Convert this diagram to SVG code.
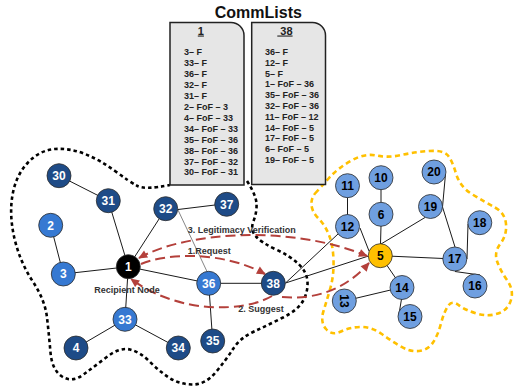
<svg xmlns="http://www.w3.org/2000/svg" width="515" height="387" viewBox="0 0 515 387">
<style>
.blobk{fill:none;stroke:#000;stroke-width:2.6;stroke-dasharray:3.5 3}
.bloby{fill:none;stroke:#ffc000;stroke-width:2.6;stroke-dasharray:5 3.5}
.box{fill:#e6e6e6;stroke:#222;stroke-width:1.5}
.lst{font-family:"Liberation Sans",Arial,sans-serif;font-size:9px;font-weight:bold;fill:#222}
.hdr{font-family:"Liberation Sans",Arial,sans-serif;font-size:11px;font-weight:bold;fill:#222;text-decoration:underline;white-space:pre}
.title{font-family:"Liberation Sans",Arial,sans-serif;font-size:16px;font-weight:bold;fill:#111;text-anchor:middle}
.e{stroke:#1a1a1a;stroke-width:1;fill:none}
.et{stroke:#333;stroke-width:0.6;fill:none}
.arr{fill:none;stroke:#b4403b;stroke-width:2;stroke-dasharray:10 5}
.n circle{stroke:#2b2b2b;stroke-width:0.8}
.dk circle{fill:#1e4b87}
.md circle{fill:#3679d2}
.lt circle{fill:#6f9fe0}
.bk circle{fill:#000}
.yl circle{fill:#ffc000}
.n text{font-family:"Liberation Sans",Arial,sans-serif;font-size:12px;font-weight:bold;text-anchor:middle}
.dk text,.md text,.bk text{fill:#fff}
.lt text,.yl text{fill:#000}
.lbl{font-family:"Liberation Sans",Arial,sans-serif;font-size:9px;font-weight:bold;fill:#333}
</style>
<defs>
<marker id="ah" viewBox="0 0 10 10" refX="9" refY="5" markerWidth="10" markerHeight="9" markerUnits="userSpaceOnUse" orient="auto-start-reverse">
<path d="M0,0.5 L10,5 L0,9.5 z" fill="#b4403b"/>
</marker>
</defs>

<g id="regions">
<path class="blobk" d="M247,181 Q256,195 256.5,203.5 Q257,212 253.5,221 Q250,230 256,236.5 Q262,243 276,249.5 Q290,256 298.5,264 Q307,272 307.5,282 Q308,292 303,301 Q298,310 283,317.5 Q268,325 254,331.5 Q240,338 233,349 Q226,360 215.5,372.5 Q205,385 191.5,384.5 Q178,384 168,377 Q158,370 149,361 Q140,352 130,349.5 Q120,347 107.5,356.5 Q95,366 83.5,374.5 Q72,383 62,376.5 Q52,370 50.5,352.5 Q49,335 47,317.5 Q45,300 32.5,281 Q20,262 14.5,238.5 Q9,215 12.5,195 Q16,175 28,162.5 Q40,150 55,149 Q70,148 85,154 Q100,160 115,171 Q130,182 137.5,186 Q145,190 170,185"/>
<path class="bloby" d="M315.5,193 Q320,188 329,178 Q338,168 351.5,160.5 Q365,153 376.5,155.5 Q388,158 401.5,155 Q415,152 429,151 Q443,150 447.5,155 Q452,160 456,173.5 Q460,187 472.5,194.5 Q485,202 495,207.5 Q505,213 506,224 Q507,235 500.5,243.5 Q494,252 497,261 Q500,270 507,280 Q514,290 511,300 Q508,310 498,313.5 Q488,317 476.5,313.5 Q465,310 458.5,305 Q452,300 448,306 Q444,312 441,323.5 Q438,335 433,342.5 Q428,350 419,351 Q410,352 400,346 Q390,340 381,333.5 Q372,327 361,327 Q350,327 341,331.5 Q332,336 326,329 Q320,322 323.5,311 Q327,300 330.5,287.5 Q334,275 333.5,260 Q333,245 329,235 Q325,225 318.5,218.5 Q312,212 311.5,205 Q311,198 315.5,193 Z"/>
</g>

<g id="commlists">
<text class="title" x="258.3" y="17.5">CommLists</text>
<g id="list-1">
<path class="box" d="M170,22.5 H231 A13,13 0 0 1 244,35.5 V185 H170 Z"/>
<text class="hdr" x="197.8" y="34.5">1</text>
<text class="lst" x="184" y="55">3– F</text>
<text class="lst" x="184" y="65.95">33– F</text>
<text class="lst" x="184" y="76.9">36– F</text>
<text class="lst" x="184" y="87.85">32– F</text>
<text class="lst" x="184" y="98.8">31– F</text>
<text class="lst" x="184" y="109.75">2– FoF – 3</text>
<text class="lst" x="184" y="120.7">4– FoF – 33</text>
<text class="lst" x="184" y="131.65">34– FoF – 33</text>
<text class="lst" x="184" y="142.6">35– FoF – 36</text>
<text class="lst" x="184" y="153.55">38– FoF – 36</text>
<text class="lst" x="184" y="164.5">37– FoF – 32</text>
<text class="lst" x="184" y="175.45">30– FoF – 31</text>
</g>
<g id="list-38">
<path class="box" d="M251.7,22.5 H312.5 A13,13 0 0 1 325.5,35.5 V184.5 H251.7 Z"/>
<text class="hdr" x="277.3" y="34.5"> 38</text>
<text class="lst" x="265" y="55">36– F</text>
<text class="lst" x="265" y="65.8">12– F</text>
<text class="lst" x="265" y="76.6">5– F</text>
<text class="lst" x="265" y="87.4">1– FoF – 36</text>
<text class="lst" x="265" y="98.2">35– FoF – 36</text>
<text class="lst" x="265" y="109">32– FoF – 36</text>
<text class="lst" x="265" y="119.8">11– FoF – 12</text>
<text class="lst" x="265" y="130.6">14– FoF – 5</text>
<text class="lst" x="265" y="141.4">17– FoF – 5</text>
<text class="lst" x="265" y="152.2">6– FoF – 5</text>
<text class="lst" x="265" y="163">19– FoF – 5</text>
</g>
</g>

<g id="connectors">
<line class="e" x1="59" y1="175.7" x2="108.3" y2="200.7"/>
<line class="e" x1="108.3" y1="200.7" x2="128.3" y2="266.7"/>
<line class="e" x1="50.7" y1="225.3" x2="63.3" y2="274"/>
<line class="e" x1="63.3" y1="274" x2="128.3" y2="266.7"/>
<line class="e" x1="165.7" y1="208.7" x2="128.3" y2="266.7"/>
<line class="e" x1="178" y1="209.5" x2="215" y2="205"/>
<line class="et" x1="178" y1="210" x2="207" y2="271.5"/>
<line class="e" x1="128.3" y1="266.7" x2="208.7" y2="283.3"/>
<line class="e" x1="128.3" y1="266.7" x2="125" y2="319.3"/>
<line class="e" x1="125" y1="319.3" x2="76" y2="348"/>
<line class="e" x1="125" y1="319.3" x2="178.3" y2="348"/>
<line class="e" x1="208.7" y1="283.3" x2="273.3" y2="283.3"/>
<line class="e" x1="208.7" y1="283.3" x2="212.7" y2="341"/>
<line class="e" x1="285.5" y1="283" x2="338" y2="234"/>
<line class="e" x1="285.5" y1="283" x2="368.5" y2="256"/>
<line class="e" x1="347.5" y1="185.7" x2="347.5" y2="226.5"/>
<line class="e" x1="360" y1="228" x2="369" y2="251"/>
<line class="e" x1="381" y1="177.7" x2="381" y2="214.3"/>
<line class="e" x1="381" y1="226" x2="380.5" y2="244"/>
<line class="e" x1="381" y1="244" x2="425" y2="217.5"/>
<line class="e" x1="380.3" y1="255.7" x2="454.7" y2="259"/>
<line class="e" x1="380.3" y1="255.7" x2="402" y2="287.3"/>
<line class="e" x1="344.3" y1="301" x2="402" y2="287.3"/>
<line class="e" x1="401.5" y1="299" x2="398.5" y2="317"/>
<polyline class="e" points="445.5,174 442.5,207 455,247"/>
<line class="e" x1="468" y1="224" x2="467" y2="259"/>
<line class="e" x1="455" y1="271.5" x2="480" y2="275"/>
</g>

<g id="messages">
<path class="arr" d="M139,258 C185,232 290,224 367,256" marker-start="url(#ah)" marker-end="url(#ah)"/>
<path class="arr" d="M141,264 C170,252 225,252 265,274" marker-end="url(#ah)"/>
<path class="arr" d="M272,296 C245,312 180,315 131,279" marker-end="url(#ah)"/>
<path class="arr" d="M282,297 C315,300 345,290 369,263" marker-end="url(#ah)"/>
</g>

<g id="node-30" class="n dk"><circle cx="59" cy="175.7" r="12"/><text x="59" y="180">30</text></g>
<g id="node-31" class="n dk"><circle cx="108.3" cy="200.7" r="12"/><text x="108.3" y="205">31</text></g>
<g id="node-2" class="n md"><circle cx="50.7" cy="225.3" r="12"/><text x="50.7" y="229.6">2</text></g>
<g id="node-32" class="n dk"><circle cx="165.7" cy="208.7" r="12"/><text x="165.7" y="213">32</text></g>
<g id="node-37" class="n dk"><circle cx="226.7" cy="204.3" r="12"/><text x="226.7" y="208.6">37</text></g>
<g id="node-3" class="n md"><circle cx="63.3" cy="274" r="12"/><text x="63.3" y="278.3">3</text></g>
<g id="node-1" class="n bk"><circle cx="128.3" cy="266.7" r="12"/><text x="128.3" y="271">1</text></g>
<g id="node-36" class="n md"><circle cx="208.7" cy="283.3" r="12"/><text x="208.7" y="287.6">36</text></g>
<g id="node-38" class="n dk"><circle cx="273.3" cy="283.3" r="12"/><text x="273.3" y="287.6">38</text></g>
<g id="node-33" class="n md"><circle cx="125" cy="319.3" r="12"/><text x="125" y="323.6">33</text></g>
<g id="node-4" class="n dk"><circle cx="76" cy="348" r="12"/><text x="76" y="352.3">4</text></g>
<g id="node-34" class="n dk"><circle cx="178.3" cy="348" r="12"/><text x="178.3" y="352.3">34</text></g>
<g id="node-35" class="n dk"><circle cx="212.7" cy="341" r="12"/><text x="212.7" y="345.3">35</text></g>
<g id="node-11" class="n lt"><circle cx="347.5" cy="185.7" r="12"/><text x="347.5" y="190">11</text></g>
<g id="node-10" class="n lt"><circle cx="381" cy="177.7" r="12"/><text x="381" y="182">10</text></g>
<g id="node-20" class="n lt"><circle cx="434" cy="172" r="12"/><text x="434" y="176.3">20</text></g>
<g id="node-6" class="n lt"><circle cx="381" cy="214.3" r="12"/><text x="381" y="218.6">6</text></g>
<g id="node-19" class="n lt"><circle cx="430.5" cy="206.5" r="12"/><text x="430.5" y="210.8">19</text></g>
<g id="node-12" class="n lt"><circle cx="347.5" cy="226.5" r="12"/><text x="347.5" y="230.8">12</text></g>
<g id="node-18" class="n lt"><circle cx="479.8" cy="222.7" r="12"/><text x="479.8" y="227">18</text></g>
<g id="node-5" class="n yl"><circle cx="380.3" cy="255.7" r="12"/><text x="380.3" y="260">5</text></g>
<g id="node-17" class="n lt"><circle cx="454.8" cy="259" r="12"/><text x="454.8" y="263.3">17</text></g>
<g id="node-16" class="n lt"><circle cx="475" cy="286" r="12"/><text x="475" y="290.3">16</text></g>
<g id="node-14" class="n lt"><circle cx="402" cy="287.5" r="12"/><text x="402" y="291.8">14</text></g>
<g id="node-13" class="n lt"><circle cx="344.3" cy="301" r="12"/><text x="344.3" y="305.3" transform="rotate(90 344.3 301)">13</text></g>
<g id="node-15" class="n lt"><circle cx="410" cy="316.5" r="12"/><text x="410" y="320.8">15</text></g>

<g id="labels">
<text class="lbl" x="187.7" y="233.3">3. Legitimacy Verification</text>
<text class="lbl" x="187.7" y="253.9">1.Request</text>
<text class="lbl" x="238.3" y="312.3">2. Suggest</text>
<text class="lbl" x="94.3" y="292.5">Recipient Node</text>
</g>
</svg>
